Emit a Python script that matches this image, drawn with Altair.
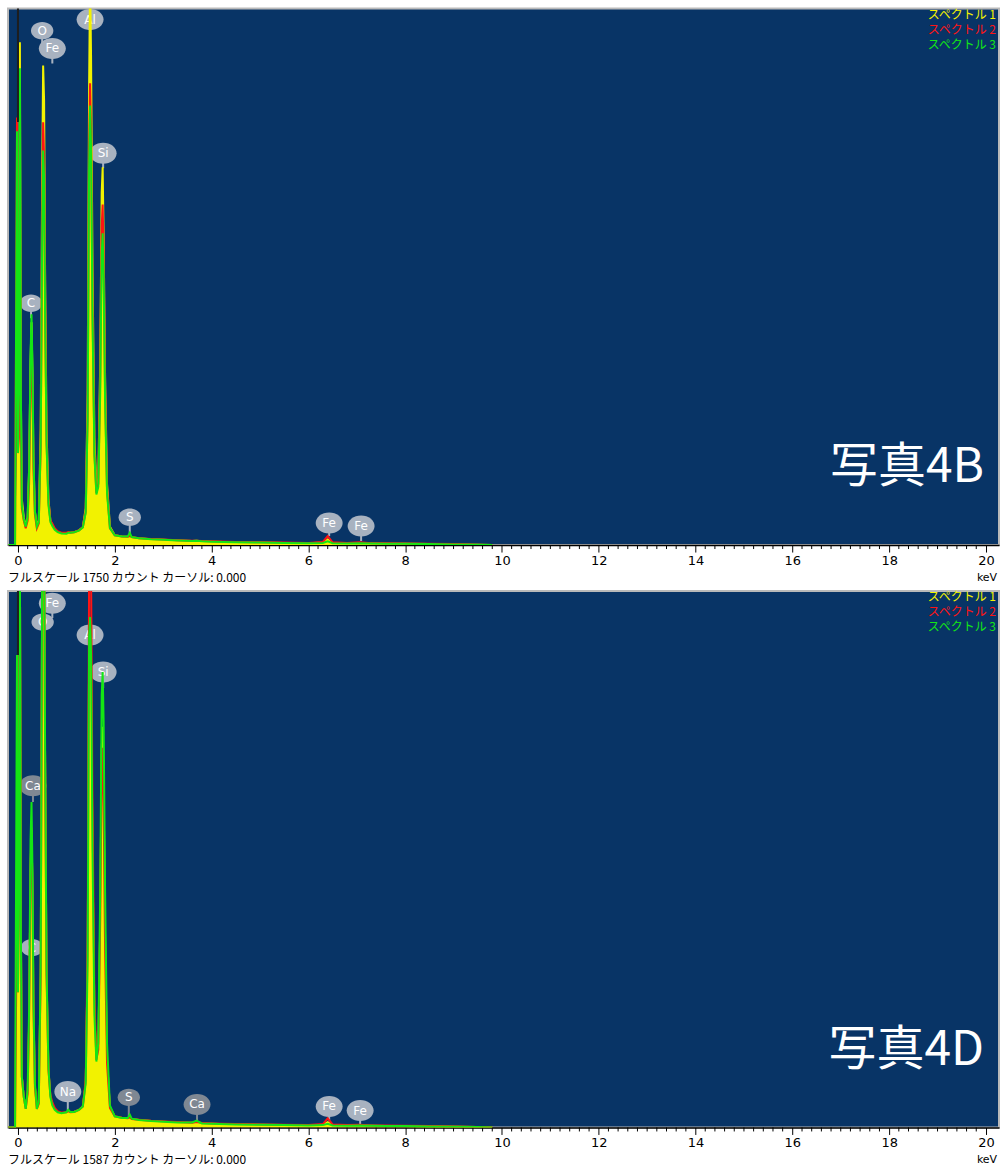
import altair as alt
import pandas as pd

# Energy channels (keV) shared by all spectra
ENERGY = [-0.20, -0.06, -0.02, 0.00, 0.02, 0.04, 0.06, 0.08, 0.12, 0.16,
          0.20, 0.23, 0.26, 0.28, 0.30, 0.32, 0.35, 0.39, 0.43, 0.47,
          0.50, 0.52, 0.54, 0.56, 0.59, 0.63, 0.67, 0.71, 0.76, 0.82,
          0.90, 1.00, 1.04, 1.08, 1.16, 1.26, 1.34, 1.40, 1.44, 1.47,
          1.49, 1.51, 1.54, 1.58, 1.62, 1.66, 1.70, 1.73, 1.75, 1.77,
          1.80, 1.84, 1.90, 2.00, 2.15, 2.27, 2.31, 2.35, 2.50, 2.75,
          3.00, 3.30, 3.60, 3.69, 3.80, 4.00, 4.50, 5.00, 5.50, 6.00,
          6.30, 6.40, 6.50, 6.80, 7.06, 7.30, 7.60, 8.00, 8.50, 9.00,
          9.50, 9.80]

# 写真4B : counts of spectrum 1 / 2 / 3
P1_SPEC1 = [0, 0, 150, 400, 700, 1640, 500, 150, 90, 60,
            90, 250, 600, 727, 560, 280, 110, 60, 80, 380,
            1200, 1564, 1450, 900, 380, 150, 80, 65, 50, 42,
            38, 38, 40, 40, 42, 48, 58, 120, 500, 1500,
            1850, 1600, 900, 350, 180, 220, 600, 1150, 1232, 1000,
            550, 200, 60, 32, 28, 27, 33, 25, 22, 19,
            17, 15, 13, 14, 12, 11, 9, 8, 7, 6,
            8, 18, 7, 5, 6, 5, 4, 4, 3, 2,
            1, 0]
P1_SPEC2 = [0, 0, 1395, 300, 350, 1300, 400, 120, 80, 55,
            80, 200, 520, 650, 500, 250, 100, 55, 70, 320,
            1050, 1379, 1264, 800, 340, 140, 80, 70, 55, 45,
            40, 40, 42, 40, 42, 48, 58, 110, 430, 1300,
            1506, 1350, 780, 300, 170, 200, 550, 1040, 1111, 951,
            500, 180, 55, 32, 28, 27, 30, 26, 22, 20,
            18, 16, 14, 14, 13, 12, 10, 9, 8, 7,
            10, 29, 9, 7, 9, 6, 6, 5, 4, 3,
            1, 0]
P1_SPEC3 = [0, 0, 1350, 300, 500, 1555, 500, 130, 85, 60,
            90, 240, 620, 753, 580, 290, 110, 60, 75, 330,
            1000, 1287, 1200, 760, 330, 130, 75, 62, 50, 42,
            38, 37, 40, 40, 42, 47, 57, 105, 410, 1230,
            1434, 1300, 740, 290, 165, 190, 500, 950, 1017, 880,
            470, 170, 55, 32, 28, 28, 40, 26, 22, 19,
            17, 15, 13, 14, 12, 11, 9, 8, 7, 6,
            7, 12, 6, 5, 6, 5, 4, 4, 3, 2,
            1, 0]

# 写真4D : counts of spectrum 1 / 2 / 3
P2_SPEC1 = [0, 0, 300, 500, 800, 1700, 600, 150, 90, 55,
            90, 300, 760, 880, 700, 350, 120, 55, 70, 450,
            1600, 1900, 1750, 1100, 450, 170, 90, 65, 52, 45,
            42, 44, 48, 45, 46, 52, 62, 130, 480, 1400,
            1460, 1350, 800, 330, 190, 230, 600, 1120, 1185, 1000,
            560, 200, 60, 32, 28, 27, 30, 25, 22, 19,
            17, 15, 14, 17, 12, 11, 9, 8, 7, 6,
            8, 16, 7, 5, 6, 5, 4, 4, 3, 2,
            1, 0]
P2_SPEC2 = [0, 0, 700, 400, 700, 1700, 600, 150, 90, 55,
            100, 320, 780, 887, 700, 360, 120, 55, 70, 450,
            1600, 1900, 1750, 1100, 450, 170, 95, 75, 58, 48,
            44, 45, 48, 45, 46, 52, 62, 140, 560, 1650,
            1750, 1650, 950, 380, 200, 230, 620, 1080, 1123, 950,
            530, 190, 58, 33, 29, 27, 30, 25, 23, 20,
            18, 16, 14, 16, 13, 12, 10, 9, 8, 7,
            10, 27, 9, 7, 8, 6, 6, 5, 4, 3,
            1, 0]
P2_SPEC3 = [0, 0, 1398, 400, 700, 1700, 600, 150, 90, 55,
            110, 350, 850, 963, 760, 380, 130, 55, 75, 480,
            1650, 1900, 1800, 1150, 470, 175, 90, 65, 52, 45,
            42, 45, 52, 46, 46, 52, 62, 130, 500, 1450,
            1510, 1400, 820, 330, 195, 250, 700, 1280, 1347, 1200,
            700, 250, 65, 33, 28, 28, 38, 26, 22, 19,
            17, 15, 15, 20, 12, 11, 9, 8, 7, 6,
            7, 11, 6, 5, 6, 5, 4, 4, 3, 2,
            1, 0]

FULL_SCALE = [1750, 1587]
PHOTO_NAMES = ["写真4B", "写真4D"]
SPEC_NAMES = ["スペクトル 1", "スペクトル 2", "スペクトル 3"]
SPEC_COLORS = ["#f2f200", "#ff1414", "#14e614"]

# zero-energy strobe, drawn above the spectra (low / high count)
P1_STROBE = [1380, 1800]
P2_STROBE = [1398, 1800]

# element markers: energy, marker centre (counts), pointer tip (counts), shade
P1_LABELS = ["O", "Fe", "Al", "Si", "C", "S", "Fe", "Fe"]
P1_LABEL_E = [0.50, 0.71, 1.49, 1.76, 0.27, 2.31, 6.43, 7.09]
P1_LABEL_AT = [1678, 1620, 1714, 1278, 789, 91, 72, 62]
P1_LABEL_TIP = [1623, 1571, 1665, 1229, 740, 33, 29, 13]
P1_LABEL_SHADE = ["light", "light", "light", "light", "light", "light", "light", "light"]

P2_LABELS = ["Fe", "O", "Al", "Si", "Ca", "C", "Na", "S", "Ca", "Fe", "Fe"]
P2_LABEL_E = [0.71, 0.51, 1.49, 1.76, 0.31, 0.29, 1.03, 2.29, 3.70, 6.43, 7.07]
P2_LABEL_AT = [1551, 1495, 1457, 1347, 1011, 532, 106, 89, 68, 62, 50]
P2_LABEL_TIP = [1507, 1451, 1412, 1300, 963, 485, 50, 33, 21, 21, 9]
P2_LABEL_SHADE = ["light", "light", "light", "light", "dark", "light", "light",
                  "dark", "dark", "light", "light"]

MAJOR_TICKS = [0, 2, 4, 6, 8, 10, 12, 14, 16, 18, 20]
MINOR_TICKS = [round(0.2 * i, 1) for i in range(101) if i % 10 != 0]

W, H = 992, 537
BLOB = "M -1 0 A 1 0.78 0 1 0 1 0 A 1 0.78 0 1 0 -1 0 Z"


def panel(spec1, spec2, spec3, strobe, labels, label_e, label_at, label_tip,
          label_shade, full, photo):
    xs = alt.Scale(domain=[-0.206, 20.27], nice=False, zero=False)
    ys = alt.Scale(domain=[0, full], nice=False, zero=True)
    xaxis = alt.Axis(values=MAJOR_TICKS, tickSize=7, tickColor="black",
                     domainColor="black", domainWidth=1.5, labelColor="black",
                     labelFont="DejaVu Sans", labelFontSize=13, labelPadding=2,
                     labelFlush=False, grid=False, title=None)
    X = alt.X("E:Q", scale=xs, axis=xaxis)

    spec = pd.DataFrame({"E": ENERGY, "s1": spec1, "s2": spec2, "s3": spec3})
    lbl = pd.DataFrame({"E": label_e, "el": labels, "at": label_at,
                        "tip": label_tip, "shade": label_shade,
                        "size": [729 if len(t) > 1 else 500 for t in labels]})
    shade = alt.Color("shade:N", scale=alt.Scale(domain=["light", "dark"],
                      range=["#a8b2c0", "#7f8893"]), legend=None)

    minor = alt.Chart(pd.DataFrame({"t": MINOR_TICKS})).mark_rule(
        color="black", strokeWidth=1).encode(
        x=alt.X("t:Q", scale=xs, axis=xaxis), y=alt.value(H), y2=alt.value(H + 4))

    stem = alt.Chart(lbl).mark_rule(strokeWidth=2, clip=True).encode(
        x=X, y=alt.Y("at:Q", scale=ys, axis=None), y2="tip:Q", color=shade)
    blob = alt.Chart(lbl).mark_point(shape=BLOB, filled=True, opacity=1,
                                     strokeWidth=0).encode(
        x=X, y=alt.Y("at:Q", scale=ys, axis=None), color=shade,
        size=alt.Size("size:Q", scale=None))
    btxt = alt.Chart(lbl).mark_text(color="white", font="DejaVu Sans",
                                    fontSize=12, baseline="middle").encode(
        x=X, y=alt.Y("at:Q", scale=ys, axis=None), text="el:N")

    Y1 = alt.Y("s1:Q", scale=ys, axis=None)
    area = alt.Chart(spec).mark_area(color=SPEC_COLORS[0], clip=True,
                                     opacity=1).encode(x=X, y=Y1)
    line1 = alt.Chart(spec).mark_line(color=SPEC_COLORS[0], strokeWidth=2,
                                      clip=True).encode(x=X, y=Y1)
    line2 = alt.Chart(spec).mark_line(color=SPEC_COLORS[1], strokeWidth=2,
                                      clip=True).encode(
        x=X, y=alt.Y("s2:Q", scale=ys, axis=None))
    line3 = alt.Chart(spec).mark_line(color=SPEC_COLORS[2], strokeWidth=2,
                                      clip=True).encode(
        x=X, y=alt.Y("s3:Q", scale=ys, axis=None))
    strobe_rule = alt.Chart(pd.DataFrame({"E": [0.0], "lo": [strobe[0]],
                                          "hi": [strobe[1]]})).mark_rule(
        color="#1e1e1e", strokeWidth=2, clip=True).encode(
        x=X, y=alt.Y("lo:Q", scale=ys, axis=None), y2="hi:Q")

    layers = [minor, stem, blob, btxt, area, line1, line2, line3, strobe_rule]

    for k, (name, col) in enumerate(zip(SPEC_NAMES, SPEC_COLORS)):
        layers.append(alt.Chart(pd.DataFrame({"t": [name]})).mark_text(
            color=col, font="Noto Sans CJK JP", fontSize=12, align="right",
            baseline="middle").encode(x=alt.value(W - 3), y=alt.value(6 + 15 * k),
                                      text="t:N"))

    layers.append(alt.Chart(pd.DataFrame({"t": [photo]})).mark_text(
        color="white", font="Noto Sans CJK JP", fontSize=48, align="right",
        baseline="alphabetic").encode(x=alt.value(W - 15), y=alt.value(H - 63),
                                      text="t:N"))
    footer = f"フルスケール {full} カウント カーソル: 0.000"
    layers.append(alt.Chart(pd.DataFrame({"t": [footer]})).mark_text(
        color="black", font="Noto Sans CJK JP", fontSize=12, align="left",
        baseline="middle").encode(x=alt.value(0), y=alt.value(H + 33), text="t:N"))
    layers.append(alt.Chart(pd.DataFrame({"t": ["keV"]})).mark_text(
        color="black", font="DejaVu Sans", fontSize=11, align="center",
        baseline="middle").encode(x=alt.value(W - 12), y=alt.value(H + 33),
                                  text="t:N"))
    return alt.layer(*layers).properties(width=W, height=H)


top = panel(P1_SPEC1, P1_SPEC2, P1_SPEC3, P1_STROBE, P1_LABELS, P1_LABEL_E,
            P1_LABEL_AT, P1_LABEL_TIP, P1_LABEL_SHADE, FULL_SCALE[0], PHOTO_NAMES[0])
bottom = panel(P2_SPEC1, P2_SPEC2, P2_SPEC3, P2_STROBE, P2_LABELS, P2_LABEL_E,
               P2_LABEL_AT, P2_LABEL_TIP, P2_LABEL_SHADE, FULL_SCALE[1], PHOTO_NAMES[1])

chart = alt.vconcat(top, bottom, spacing=5).properties(
    padding={"left": 7, "top": 7, "right": 3, "bottom": 0},
    background="white",
).configure_view(fill="#083466", stroke="#b9b9b9", strokeWidth=2)

chart.save("out.html", embed_options={"renderer": "svg", "actions": False})
